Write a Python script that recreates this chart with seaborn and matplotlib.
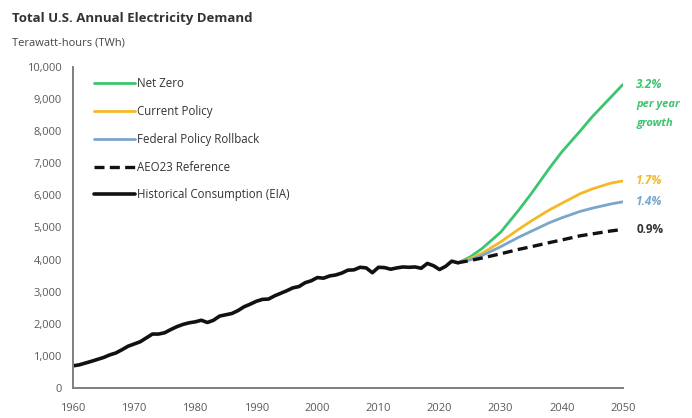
import numpy as np
import pandas as pd
import matplotlib
matplotlib.use("Agg")
import matplotlib.pyplot as plt
import seaborn as sns

# Historical consumption (EIA), TWh
hist_years = list(range(1960, 2024))
hist_twh = [690, 720, 775, 830, 890, 950, 1030, 1090, 1190, 1300,
            1370, 1440, 1560, 1680, 1680, 1720, 1820, 1910, 1980, 2030,
            2060, 2110, 2040, 2110, 2240, 2280, 2320, 2410, 2530, 2610,
            2700, 2760, 2770, 2870, 2950, 3030, 3120, 3160, 3280, 3340,
            3440, 3420, 3490, 3520, 3580, 3670, 3680, 3760, 3740, 3590,
            3760, 3750, 3700, 3740, 3770, 3760, 3770, 3730, 3880, 3810,
            3690, 3790, 3950, 3900]

# Projection scenarios, TWh
proj_years = [2023, 2025, 2027, 2030, 2033, 2035, 2038, 2040, 2043, 2045, 2048, 2050]
net_zero = [3900, 4080, 4350, 4850, 5550, 6050, 6850, 7350, 8000, 8450, 9050, 9450]
current_policy = [3900, 4030, 4200, 4550, 4950, 5200, 5550, 5750, 6050, 6200, 6380, 6450]
policy_rollback = [3900, 3990, 4130, 4400, 4700, 4880, 5150, 5300, 5500, 5600, 5730, 5800]
aeo23_reference = [3900, 3970, 4050, 4180, 4320, 4400, 4530, 4610, 4740, 4800, 4890, 4940]

growth_labels = ["3.2%", "1.7%", "1.4%", "0.9%"]

GREEN = "#3cc46e"
YELLOW = "#f4b928"
BLUE = "#7aa6cc"
BLACK = "#111111"
GREY = "#5a5a5a"

sns.set_style("white")
plt.rcParams["font.family"] = ["Open Sans", "DejaVu Sans"]

fig = plt.figure(figsize=(6.92, 4.18), dpi=100)
ax = fig.add_axes([0.1055, 0.0718, 0.7945, 0.768])

scen = pd.DataFrame({"year": proj_years, "nz": net_zero, "cp": current_policy,
                     "rb": policy_rollback, "aeo": aeo23_reference})
hist = pd.DataFrame({"year": hist_years, "twh": hist_twh})

sns.lineplot(data=scen, x="year", y="nz", ax=ax, color=GREEN, lw=2.0, label="Net Zero")
sns.lineplot(data=scen, x="year", y="cp", ax=ax, color=YELLOW, lw=2.0, label="Current Policy")
sns.lineplot(data=scen, x="year", y="rb", ax=ax, color=BLUE, lw=2.0, label="Federal Policy Rollback")
sns.lineplot(data=scen, x="year", y="aeo", ax=ax, color=BLACK, lw=2.4, ls=(0, (3, 1.6)),
             label="AEO23 Reference")
sns.lineplot(data=hist, x="year", y="twh", ax=ax, color=BLACK, lw=2.6,
             label="Historical Consumption (EIA)")

ax.set_xlim(1960, 2050)
ax.set_ylim(0, 10000)
ax.set_xticks(range(1960, 2051, 10))
ax.set_yticks(range(0, 10001, 1000))
ax.set_yticklabels([f"{v:,}" for v in range(0, 10001, 1000)])
ax.set_xlabel("")
ax.set_ylabel("")
ax.tick_params(axis="both", colors=GREY, labelsize=8, length=0)
ax.tick_params(axis="x", pad=11)
ax.tick_params(axis="y", pad=8)
for side in ("top", "right"):
    ax.spines[side].set_visible(False)
for side in ("left", "bottom"):
    ax.spines[side].set_color("#7f7f7f")
    ax.spines[side].set_linewidth(1.4)

leg = ax.legend(loc="upper left", bbox_to_anchor=(0.02, 1.0), frameon=False,
                fontsize=8.3, handlelength=3.5, handletextpad=0.2, labelspacing=1.28)
for t in leg.get_texts():
    t.set_color("#333333")

# Growth-rate labels at the end of each scenario
end_x = proj_years[-1] + 2.2
ax.text(end_x, net_zero[-1], growth_labels[0], color=GREEN, fontsize=8.5,
        fontweight="bold", style="italic", va="center", ha="left", clip_on=False)
ax.text(end_x, net_zero[-1] - 620, "per year", color=GREEN, fontsize=8,
        fontweight="bold", style="italic", va="center", ha="left", clip_on=False)
ax.text(end_x, net_zero[-1] - 1220, "growth", color=GREEN, fontsize=8,
        fontweight="bold", style="italic", va="center", ha="left", clip_on=False)
ax.text(end_x, current_policy[-1], growth_labels[1], color=YELLOW, fontsize=8.5,
        fontweight="bold", style="italic", va="center", ha="left", clip_on=False)
ax.text(end_x, policy_rollback[-1], growth_labels[2], color=BLUE, fontsize=8.5,
        fontweight="bold", style="italic", va="center", ha="left", clip_on=False)
ax.text(end_x, aeo23_reference[-1], growth_labels[3], color="#333333", fontsize=8.5,
        fontweight="bold", va="center", ha="left", clip_on=False)

fig.text(0.017, 0.955, "Total U.S. Annual Electricity Demand", fontsize=9.5,
         fontweight="bold", color="#333333", ha="left", va="center")
fig.text(0.017, 0.897, "Terawatt-hours (TWh)", fontsize=8, color="#444444",
         ha="left", va="center")

fig.savefig("out.png", dpi=100)
